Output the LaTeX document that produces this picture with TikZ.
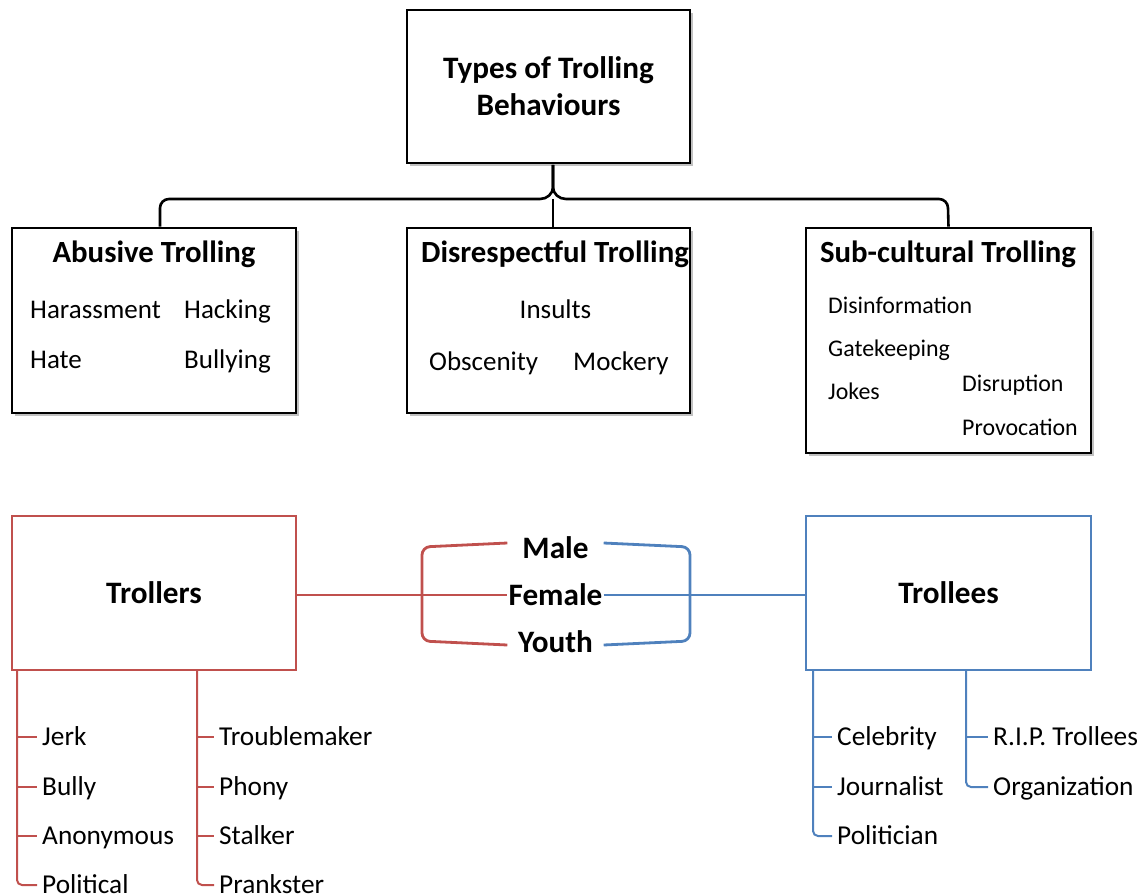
\documentclass[tikz,border=0pt]{standalone}
\usepackage{fontspec}
\setmainfont{Carlito}
\usetikzlibrary{shadows}
\definecolor{trollred}{RGB}{192,80,77}
\definecolor{trollblue}{RGB}{79,129,189}

\begin{document}
\begin{tikzpicture}[x=1pt, y=-1pt,
    blackbox/.style={rectangle, draw=black, line width=2.6pt, fill=white, inner sep=0pt,
        drop shadow={shadow xshift=3pt, shadow yshift=-3pt, opacity=0.35, fill=black!70}},
    redbox/.style={rectangle, draw=trollred, line width=2.4pt, fill=white, inner sep=0pt},
    bluebox/.style={rectangle, draw=trollblue, line width=2.4pt, fill=white, inner sep=0pt},
    headtext/.style={font=\bfseries\fontsize{30.8}{37}\selectfont, inner sep=0pt, anchor=base},
    itemtext/.style={font=\fontsize{27}{32}\selectfont, inner sep=0pt, anchor=base west},
    smalltext/.style={font=\fontsize{23.9}{28}\selectfont, inner sep=0pt, anchor=base west},
    listtext/.style={font=\fontsize{27.3}{32}\selectfont, inner xsep=5pt, inner ysep=0pt,
        text height=16pt, text depth=0pt, anchor=base west},
    sextext/.style={font=\bfseries\fontsize{31.2}{37}\selectfont, inner sep=0pt, minimum width=96pt},
    brace/.style={draw=black, line width=2.6pt},
    redline/.style={draw=trollred, line width=2.8pt},
    blueline/.style={draw=trollblue, line width=2.8pt},
    redlist/.style={draw=trollred, line width=2pt},
    bluelist/.style={draw=trollblue, line width=2pt},
    ]
\useasboundingbox (0,0) rectangle (1148,896);

% top box and the three kinds
\node [blackbox, align=center, font=\bfseries\fontsize{31.2}{37}\selectfont,
       minimum width=283pt, minimum height=153pt] (top) at (548.5,86.5) {Types of Trolling\\Behaviours};
\node [blackbox, minimum width=284pt, minimum height=185pt] (ab) at (154,320.5) {};
\node [blackbox, minimum width=283pt, minimum height=185pt] (dis) at (548.5,320.5) {};
\node [blackbox, minimum width=285pt, minimum height=225pt] (sub) at (948.5,340.5) {};

\coordinate (tip) at (553,165);
\draw [brace] ([xshift=6pt]ab.north) -- (160,208) to[out=90,in=180] (169,199) -- (540,199)
    to[out=0,in=-90] (553,187) -- (tip);
\draw [brace] (tip) -- (553,187) to[out=-90,in=180] (566,199) -- (939,199)
    to[out=0,in=90] (948,208) -- (sub.north);
\draw [brace] (553,199) -- ([xshift=4.5pt]dis.north);

\node [headtext] (h1) at (154,262) {Abusive Trolling};
\node [itemtext] (a1) at (30,318) {Harassment};
\node [itemtext] (a2) at (184,318) {Hacking};
\node [itemtext] (a3) at (30,368) {Hate};
\node [itemtext] (a4) at (184,368) {Bullying};

\node [headtext] (h2) at (555,262) {Disrespectful Trolling};
\node [itemtext, anchor=base] (d1) at (555.5,318) {Insults};
\node [itemtext] (d2) at (429,370) {Obscenity};
\node [itemtext] (d3) at (573,370) {Mockery};

\node [headtext] (h3) at (948,262) {Sub-cultural Trolling};
\node [smalltext] (s1) at (828,313) {Disinformation};
\node [smalltext] (s2) at (828,356) {Gatekeeping};
\node [smalltext] (s3) at (828,399) {Jokes};
\node [smalltext] (s4) at (962,391) {Disruption};
\node [smalltext] (s5) at (962,435) {Provocation};

% trollers and trollees
\node [redbox, font=\bfseries\fontsize{31.2}{37}\selectfont,
       minimum width=284pt, minimum height=154pt] (trs) at (154,593) {Trollers};
\node [bluebox, font=\bfseries\fontsize{31.2}{37}\selectfont,
       minimum width=285pt, minimum height=154pt] (tes) at (948.5,593) {Trollees};

\node [sextext] (male) at (555.5,548) {Male};
\node [sextext] (female) at (555.5,595) {Female};
\node [sextext] (youth) at (555.5,642) {Youth};

\draw [redline] (female.west -| trs.east) -- (female.west);
\draw [redline, rounded corners=8pt] ([yshift=5pt]male.west) -- (422,547) -- (422,641) -- ([yshift=-3pt]youth.west);
\draw [blueline] (female.east) -- (female.east -| tes.west);
\draw [blueline, rounded corners=8pt] ([yshift=5pt]male.east) -- (690,547) -- (690,641) -- ([yshift=-3pt]youth.east);

% lists below
\coordinate (rl) at (trs.south -| 17,0);
\coordinate (rm) at (trs.south -| 197,0);
\coordinate (bl) at (tes.south -| 813,0);
\coordinate (bm) at (tes.south -| 966,0);

\node [listtext] (r1) at (37,745) {Jerk};
\node [listtext] (r2) at (37,795) {Bully};
\node [listtext] (r3) at (37,844) {Anonymous};
\node [listtext] (r4) at (37,893) {Political};
\node [listtext] (r5) at (214,745) {Troublemaker};
\node [listtext] (r6) at (214,795) {Phony};
\node [listtext] (r7) at (214,844) {Stalker};
\node [listtext] (r8) at (214,893) {Prankster};

\node [listtext] (b1) at (832,745) {Celebrity};
\node [listtext] (b2) at (832,795) {Journalist};
\node [listtext] (b3) at (832,844) {Politician};
\node [listtext] (b4) at (988,745) {R.I.P. Trollees};
\node [listtext] (b5) at (988,795) {Organization};

\draw [redlist, rounded corners=5pt] (rl) |- (r4.west);
\draw [redlist] (rl |- r1.west) -- (r1.west);
\draw [redlist] (rl |- r2.west) -- (r2.west);
\draw [redlist] (rl |- r3.west) -- (r3.west);
\draw [redlist, rounded corners=5pt] (rm) |- (r8.west);
\draw [redlist] (rm |- r5.west) -- (r5.west);
\draw [redlist] (rm |- r6.west) -- (r6.west);
\draw [redlist] (rm |- r7.west) -- (r7.west);

\draw [bluelist, rounded corners=5pt] (bl) |- (b3.west);
\draw [bluelist] (bl |- b1.west) -- (b1.west);
\draw [bluelist] (bl |- b2.west) -- (b2.west);
\draw [bluelist, rounded corners=5pt] (bm) |- (b5.west);
\draw [bluelist] (bm |- b4.west) -- (b4.west);
\end{tikzpicture}
\end{document}
